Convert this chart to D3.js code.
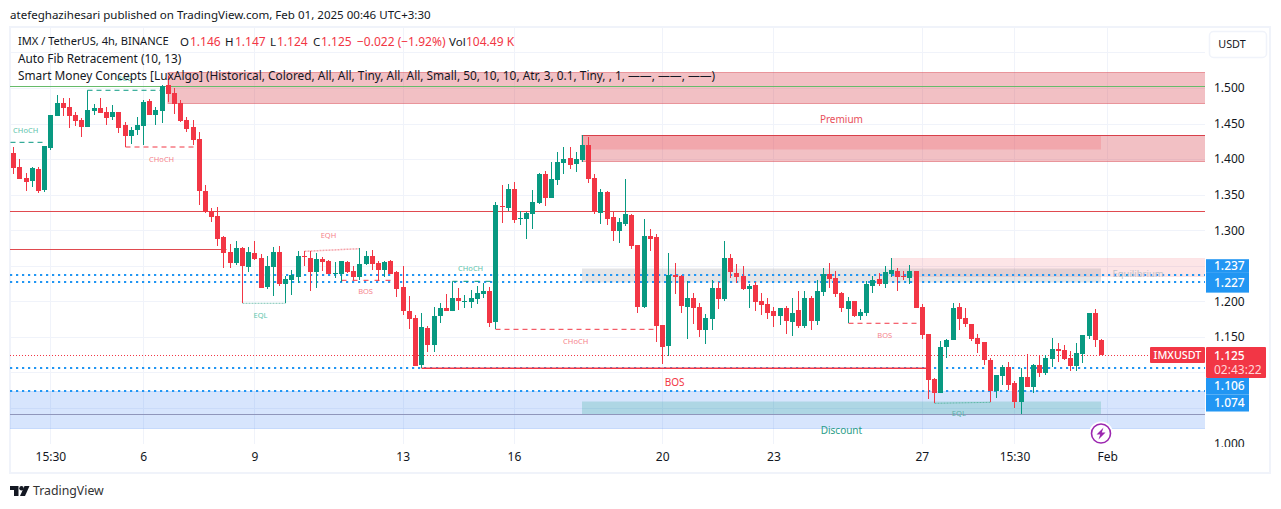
<!DOCTYPE html>
<html>
<head>
<meta charset="utf-8">
<script src="https://cdn.jsdelivr.net/npm/d3@7"></script>
<style>
  body { margin: 0; background: #fff; }
  svg { display: block; font-family: "Noto Sans", sans-serif; }
  .axis text { fill: #131722; font-size: 12px; font-family: "Noto Sans", sans-serif; }
  .axis path, .axis line { display: none; }
</style>
</head>
<body>
<div id="chart"></div>
<script>
// candles (4h bars, oldest first)
var opens = [
  1.4081,1.3888,1.3733,1.3691,1.3860,1.3569,1.4156,1.4610,1.4789,1.4732,
  1.4620,1.4545,1.4456,1.4681,1.4718,1.4662,1.4592,1.4662,1.4479,1.4329,
  1.4409,1.4470,1.4817,1.4625,1.4681,1.5042,1.4929,1.4789,1.4550,1.4451,
  1.4282,1.3551,1.3269,1.3199,1.2903,1.2692,1.2537,1.2749,1.2486,1.2678,
  1.2608,1.2200,1.2481,1.2692,1.2242,1.2298,1.2342,1.2637,1.2609,1.2412,
  1.2595,1.2567,1.2389,1.2384,1.2553,1.2426,1.2342,1.2525,1.2637,1.2539,
  1.2440,1.2567,1.2412,1.2201,1.1863,1.1765,1.1103,1.1624,1.1385,1.1793,
  1.1905,1.1863,1.2046,1.1995,1.1990,1.2032,1.2103,1.2145,1.1713,1.3340,
  1.3312,1.3579,1.3157,1.3157,1.3227,1.3382,1.3790,1.3453,1.3706,1.3945,
  1.4015,1.3931,1.3987,1.4198,1.3734,1.3241,1.3537,1.3185,1.2988,1.3087,
  1.3213,1.2791,1.1919,1.2918,1.2904,1.1666,1.1370,1.2369,1.2355,1.1919,
  1.2046,1.1919,1.1595,1.1750,1.2187,1.2032,1.2609,1.2398,1.2356,1.2173,
  1.2229,1.2004,1.1962,1.1863,1.1793,1.1906,1.1709,1.1877,1.1652,1.2046,
  1.1723,1.2131,1.2384,1.2328,1.2117,1.1891,1.2004,1.1793,1.1835,1.2215,
  1.2314,1.2243,1.2384,1.2426,1.2361,1.2328,1.2427,1.1920,1.1540,1.0907,
  1.0710,1.1357,1.1456,1.1920,1.1765,1.1681,1.1484,1.1428,1.1174,1.0738,
  1.0949,1.1076,1.0851,1.0583,1.0935,1.0794,1.1104,1.0991,1.1188,1.1329,
  1.1315,1.1202,1.1090,1.1259,1.1512,1.1836,1.146];
var highs = [
  1.4165,1.3996,1.3799,1.3888,1.3884,1.4184,1.4620,1.4901,1.4854,1.4854,
  1.4667,1.4573,1.4685,1.4775,1.4859,1.4728,1.4761,1.4667,1.4521,1.4456,
  1.4596,1.4831,1.4840,1.4737,1.5042,1.5169,1.5000,1.4831,1.4596,1.4550,
  1.4381,1.3635,1.3307,1.3325,1.2913,1.2805,1.2847,1.2763,1.2763,1.2847,
  1.2664,1.2636,1.2763,1.2777,1.2355,1.2439,1.2707,1.2707,1.2707,1.2675,
  1.2628,1.2581,1.2553,1.2567,1.2567,1.2496,1.2745,1.2707,1.2722,1.2567,
  1.2571,1.2581,1.2426,1.2496,1.2074,1.1807,1.1835,1.1652,1.1915,1.1971,
  1.2102,1.2046,1.2187,1.2088,1.2159,1.2215,1.2257,1.2196,1.3392,1.3635,
  1.3650,1.3678,1.3270,1.3256,1.3565,1.3804,1.3832,1.3959,1.4100,1.4170,
  1.4170,1.4100,1.4339,1.4311,1.3790,1.3579,1.3551,1.3256,1.3171,1.3720,
  1.3227,1.2791,1.3157,1.3016,1.2946,1.1666,1.2679,1.2538,1.2369,1.2285,
  1.2116,1.1975,1.1820,1.2299,1.2271,1.2848,1.2665,1.2525,1.2496,1.2243,
  1.2271,1.2117,1.2046,1.1920,1.1906,1.1934,1.2046,1.2145,1.2145,1.2074,
  1.2299,1.2468,1.2539,1.2426,1.2131,1.2060,1.2004,1.1891,1.2285,1.2356,
  1.2398,1.2496,1.2609,1.2468,1.2427,1.2511,1.2427,1.1962,1.1540,1.0921,
  1.1442,1.1470,1.1976,1.1976,1.1906,1.1681,1.1540,1.1428,1.1202,1.0963,
  1.1104,1.1146,1.0879,1.1062,1.1259,1.1118,1.1245,1.1245,1.1484,1.1413,
  1.1385,1.1301,1.1413,1.1526,1.1836,1.1892,1.147];
var lows = [
  1.3790,1.3724,1.3555,1.3611,1.3527,1.3541,1.4132,1.4610,1.4610,1.4442,
  1.4465,1.4315,1.4456,1.4620,1.4643,1.4479,1.4550,1.4362,1.4165,1.4212,
  1.4338,1.4202,1.4625,1.4479,1.4512,1.4798,1.4634,1.4526,1.4385,1.4198,
  1.3358,1.3241,1.3119,1.2781,1.2467,1.2467,1.2509,1.1970,1.2416,1.2580,
  1.2186,1.2172,1.2073,1.2214,1.1970,1.2087,1.2262,1.2496,1.2145,1.2187,
  1.2426,1.2384,1.2328,1.2276,1.2398,1.2299,1.2299,1.2510,1.2440,1.2285,
  1.2342,1.2384,1.2060,1.1807,1.1610,1.1089,1.1061,1.1286,1.1286,1.1694,
  1.1863,1.1863,1.1877,1.1905,1.1905,1.1962,1.2046,1.1638,1.1605,1.3106,
  1.3270,1.3101,1.3073,1.2876,1.3016,1.3368,1.3340,1.3453,1.3635,1.3790,
  1.3861,1.3818,1.3964,1.3664,1.3227,1.3087,1.3073,1.2848,1.2819,1.3059,
  1.2735,1.1835,1.1905,1.2707,1.1426,1.1117,1.1229,1.2102,1.1835,1.1469,
  1.1680,1.1497,1.1398,1.1595,1.1891,1.2004,1.2328,1.2257,1.2159,1.1906,
  1.1863,1.1807,1.1751,1.1638,1.1666,1.1540,1.1512,1.1624,1.1624,1.1596,
  1.1666,1.2074,1.2187,1.2060,1.1849,1.1690,1.1779,1.1737,1.1793,1.2117,
  1.2215,1.2187,1.2342,1.2145,1.2300,1.2244,1.1906,1.1470,1.0626,1.0569,
  1.0710,1.1202,1.1456,1.1596,1.1639,1.1442,1.1273,1.1104,1.0583,1.0640,
  1.0823,1.0752,1.0499,1.0415,1.0794,1.0710,1.0935,1.0963,1.1076,1.1146,
  1.1174,1.1020,1.1020,1.1132,1.1470,1.1357,1.124];
var closes = [
  1.3879,1.3724,1.3682,1.3874,1.3555,1.4179,1.4615,1.4789,1.4723,1.4610,
  1.4540,1.4456,1.4685,1.4718,1.4653,1.4582,1.4662,1.4437,1.4329,1.4409,
  1.4479,1.4803,1.4625,1.4690,1.5033,1.4920,1.4779,1.4540,1.4423,1.4268,
  1.3555,1.3255,1.3185,1.2880,1.2678,1.2537,1.2749,1.2495,1.2692,1.2594,
  1.2186,1.2495,1.2692,1.2242,1.2308,1.2369,1.2637,1.2623,1.2412,1.2595,
  1.2553,1.2384,1.2403,1.2567,1.2412,1.2337,1.2525,1.2637,1.2525,1.2440,
  1.2553,1.2384,1.2173,1.1863,1.1751,1.1089,1.1638,1.1385,1.1793,1.1905,
  1.1863,1.2046,1.2004,1.2004,1.2046,1.2116,1.2145,1.1694,1.3354,1.3326,
  1.3579,1.3143,1.3166,1.3241,1.3396,1.3790,1.3453,1.3720,1.3959,1.4001,
  1.3917,1.4001,1.4198,1.3720,1.3256,1.3537,1.3157,1.2988,1.3115,1.3227,
  1.2777,1.1919,1.2918,1.2876,1.1652,1.1356,1.2369,1.2341,1.1933,1.2046,
  1.1905,1.1595,1.1764,1.2186,1.2032,1.2609,1.2412,1.2342,1.2173,1.2215,
  1.1990,1.1948,1.1835,1.1793,1.1906,1.1723,1.1835,1.1652,1.2046,1.1723,
  1.2145,1.2384,1.2314,1.2103,1.1906,1.2004,1.1793,1.1849,1.2243,1.2300,
  1.2243,1.2412,1.2440,1.2342,1.2351,1.2427,1.1906,1.1526,1.0893,1.0710,
  1.1357,1.1456,1.1906,1.1751,1.1681,1.1470,1.1400,1.1174,1.0738,1.0963,
  1.1076,1.0823,1.0583,1.0935,1.0794,1.1104,1.0991,1.1202,1.1329,1.1301,
  1.1188,1.1090,1.1273,1.1526,1.1836,1.1456,1.125];

// 1.050, 1.100 and 1.250 sit behind the price tags, so they get no label
var priceTicks = [1, 1.15, 1.2, 1.3, 1.35, 1.4, 1.45, 1.5];
var gridPrices = [1, 1.05, 1.1, 1.15, 1.2, 1.25, 1.3, 1.35, 1.4, 1.45, 1.5, 1.55];
var timeTicks = [6, 21, 39, 63, 81, 105, 123, 147, 162, 177];
var timeLabels = ["15:30", "6", "9", "13", "16", "20", "23", "27", "15:30", "Feb"];

// zones: bar from, bar to, top price, bottom price, fill, edge
var zones = [
  [25, 200, 1.5225, 1.4796, "rgba(216,60,70,0.32)", "rgba(216,60,70,0.45)"],
  [92, 200, 1.4339, 1.3969, "rgba(216,60,70,0.32)", "rgba(216,60,70,0.45)"],
  [92, 176, 1.4339, 1.4142, "rgba(242,54,69,0.18)", "none"],
  [142, 200, 1.2609, 1.2356, "rgba(242,54,69,0.13)", "rgba(242,54,69,0.08)"],
  [92, 176, 1.2468, 1.2271, "rgba(120,123,134,0.2)", "none"],
  [-2, 200, 1.0738, 1.0225, "rgba(33,110,243,0.18)", "rgba(33,110,243,0.18)"],
  [92, 176, 1.0598, 1.0415, "rgba(8,153,129,0.2)", "none"]
];
// plain levels: price, bar to, colour
var levels = [
  [1.503, 200, "#66bb6a"],
  [1.3266, 200, "#e04a4f"],
  [1.2731, 34.5, "#e04a4f"],
  [1.0411, 200, "#9096bb"]
];
var dottedLevels = [1.237, 1.227, 1.106, 1.074];
var lastPrice = 1.125;

// structure lines: bar1, price1, bar2, price2, colour, dash, width
var structure = [
  [-2, 1.4236, 5, 1.4236, "#089981", "5 4", 1],
  [12, 1.4685, 12, 1.4968, "#089981", null, 1],
  [12, 1.4968, 24, 1.4968, "#089981", "5 4", 1],
  [18, 1.4170, 29.6, 1.4170, "#f23645", "5 4", 1],
  [37, 1.1972, 44, 1.1972, "#7cc4b4", "2 1", 1],
  [47, 1.2703, 56, 1.2740, "#f5a3aa", "2 1", 1.5],
  [53, 1.2295, 61, 1.2295, "#f23645", "5 6", 1],
  [71, 1.2281, 78, 1.2281, "#089981", "5 6", 1],
  [71, 1.1863, 71, 1.2281, "#089981", null, 1],
  [78, 1.1606, 104, 1.1606, "#f23645", "5 4", 1],
  [66, 1.1059, 148, 1.1059, "#f23645", null, 1.5],
  [135, 1.1691, 146, 1.1691, "#f23645", "5 4", 1],
  [149, 1.0565, 158, 1.0579, "#5fb8a6", "2 1", 1]
];
// labels: text, bar, price, colour, size
var zoneLabels = [
  ["CHoCH", 2, 1.4409, "#5cc4ac", 7.5],
  ["BOS", 18, 1.5141, "#5cc4ac", 7.5],
  ["CHoCH", 24, 1.4001, "#f5838c", 7.5],
  ["EQL", 40, 1.1807, "#5cc4ac", 7.5],
  ["EQH", 51, 1.2932, "#f5838c", 7.5],
  ["BOS", 57, 1.2145, "#f5838c", 7.5],
  ["CHoCH", 74, 1.2468, "#5cc4ac", 7.5],
  ["CHoCH", 91, 1.1442, "#f5838c", 7.5],
  ["BOS", 107, 1.0851, "#f23645", 10],
  ["BOS", 141, 1.1519, "#f5838c", 7.5],
  ["EQL", 153, 1.0429, "#5cb0a8", 7.5],
  ["Premium", 134, 1.4550, "#e8505c", 10],
  ["Discount", 134, 1.0185, "#2a9d88", 10],
  ["Equilibrium", 182, 1.2384, "#c0c2c9", 9.5]
];
// price tags on the scale: text, top and bottom of the box
var scaleTags = [
  ["1.237", 1.2592, 1.2400],
  ["1.227", 1.2400, 1.2122],
  ["1.106", 1.0921, 1.0690],
  ["1.074", 1.0690, 1.0450]
];

var fullW = 1281, fullH = 509;
var plotLeft = 10, plotRight = 1205, plotTop = 28, plotBottom = 444;

var svg = d3.select("#chart").append("svg")
    .attr("width", fullW)
    .attr("height", fullH);

var X = d3.scaleLinear().domain([0, 176]).range([13.3, 1101]);
var Y = d3.scaleLinear().domain([1, 1.55]).range([443.5, 52.45]);

svg.append("defs").append("clipPath").attr("id", "plot")
  .append("rect")
    .attr("x", plotLeft).attr("y", plotTop)
    .attr("width", plotRight - plotLeft).attr("height", plotBottom - plotTop);

// frame
svg.append("rect")
    .attr("x", 10).attr("y", 27)
    .attr("width", 1260).attr("height", 446)
    .attr("fill", "none")
    .attr("stroke", "#f0f3fa")
    .attr("stroke-width", 2);

var plot = svg.append("g").attr("clip-path", "url(#plot)");

// grid
plot.selectAll(".hgrid").data(gridPrices).enter().append("line")
    .attr("x1", plotLeft).attr("x2", plotRight)
    .attr("y1", function(d) { return Math.round(Y(d)) + 0.5; })
    .attr("y2", function(d) { return Math.round(Y(d)) + 0.5; })
    .attr("stroke", "#f0f3fa");
plot.selectAll(".vgrid").data(timeTicks).enter().append("line")
    .attr("x1", function(d) { return Math.round(X(d)) + 0.5; })
    .attr("x2", function(d) { return Math.round(X(d)) + 0.5; })
    .attr("y1", plotTop).attr("y2", plotBottom)
    .attr("stroke", "#f0f3fa");

// zones
plot.selectAll(".zone").data(zones).enter().append("rect")
    .attr("x", function(d) { return Math.round(X(d[0])); })
    .attr("y", function(d) { return Math.round(Y(d[2])) + 0.5; })
    .attr("width", function(d) { return Math.round(X(d[1])) - Math.round(X(d[0])); })
    .attr("height", function(d) { return Math.round(Y(d[3])) - Math.round(Y(d[2])); })
    .attr("fill", function(d) { return d[4]; })
    .attr("stroke", function(d) { return d[5]; });

// the upper zone has a stronger top edge
plot.append("line")
    .attr("x1", X(92)).attr("x2", plotRight)
    .attr("y1", Math.round(Y(1.4339)) + 0.5).attr("y2", Math.round(Y(1.4339)) + 0.5)
    .attr("stroke", "#d8404a");

// levels
plot.selectAll(".level").data(levels).enter().append("line")
    .attr("x1", plotLeft)
    .attr("x2", function(d) { return X(d[1]); })
    .attr("y1", function(d) { return Math.round(Y(d[0])) + 0.5; })
    .attr("y2", function(d) { return Math.round(Y(d[0])) + 0.5; })
    .attr("stroke", function(d) { return d[2]; });

plot.selectAll(".dotted").data(dottedLevels).enter().append("line")
    .attr("x1", plotLeft).attr("x2", plotRight)
    .attr("y1", function(d) { return Math.round(Y(d)); })
    .attr("y2", function(d) { return Math.round(Y(d)); })
    .attr("stroke", "#2196f3")
    .attr("stroke-width", 2)
    .attr("stroke-dasharray", "2.2 3.8");

plot.append("line")
    .attr("x1", plotLeft).attr("x2", plotRight)
    .attr("y1", Math.round(Y(lastPrice)) + 0.5).attr("y2", Math.round(Y(lastPrice)) + 0.5)
    .attr("stroke", "#f23645")
    .attr("stroke-dasharray", "1 2");

// structure lines
plot.selectAll(".structure").data(structure).enter().append("line")
    .attr("x1", function(d) { return Math.round(X(d[0])) + 0.5; })
    .attr("x2", function(d) { return Math.round(X(d[2])) + 0.5; })
    .attr("y1", function(d) { return Y(d[1]); })
    .attr("y2", function(d) { return Y(d[3]); })
    .attr("stroke", function(d) { return d[4]; })
    .attr("stroke-dasharray", function(d) { return d[5]; })
    .attr("stroke-width", function(d) { return d[6]; });

// candles
var candles = d3.range(opens.length);
var colour = function(i) { return closes[i] >= opens[i] ? "#089981" : "#f23645"; };

plot.selectAll(".wick").data(candles).enter().append("rect")
    .attr("x", function(i) { return Math.round(X(i)); })
    .attr("y", function(i) { return Y(highs[i]); })
    .attr("width", 1)
    .attr("height", function(i) { return Y(lows[i]) - Y(highs[i]); })
    .attr("fill", colour)
    .attr("shape-rendering", "crispEdges");
plot.selectAll(".body").data(candles).enter().append("rect")
    .attr("x", function(i) { return Math.round(X(i)) - 2; })
    .attr("y", function(i) { return Y(Math.max(opens[i], closes[i])); })
    .attr("width", 5)
    .attr("height", function(i) { return Math.max(1, Math.abs(Y(opens[i]) - Y(closes[i]))); })
    .attr("fill", colour)
    .attr("shape-rendering", "crispEdges");

// labels on the chart
plot.selectAll(".zlabel").data(zoneLabels).enter().append("text")
    .attr("x", function(d) { return X(d[1]); })
    .attr("y", function(d) { return Y(d[2]); })
    .attr("dy", "0.35em")
    .attr("text-anchor", "middle")
    .attr("fill", function(d) { return d[3]; })
    .attr("font-size", function(d) { return d[4]; })
    .text(function(d) { return d[0]; });

// axes
svg.append("g").attr("class", "axis")
    .attr("transform", "translate(1205,0)")
    .call(d3.axisRight(Y).tickValues(priceTicks).tickFormat(d3.format(".3f")).tickSize(0).tickPadding(9));
svg.append("g").attr("class", "axis")
    .attr("transform", "translate(0,449)")
    .call(d3.axisBottom(X).tickValues(timeTicks)
      .tickFormat(function(d, i) { return timeLabels[i]; }).tickSize(0).tickPadding(3));
// the 1.000 label is cut off by the time scale
svg.append("rect").attr("x", 1206).attr("y", 447).attr("width", 60).attr("height", 20).attr("fill", "#fff");

// USDT button
svg.append("rect")
    .attr("x", 1209.5).attr("y", 31.5).attr("width", 57).attr("height", 26).attr("rx", 4)
    .attr("fill", "#fff").attr("stroke", "#f0f3fa").attr("stroke-width", 1.5);
svg.append("text").attr("x", 1232).attr("y", 44.5).attr("dy", "0.35em")
    .attr("text-anchor", "middle").attr("font-size", 10.8).attr("fill", "#131722").text("USDT");

// price tags
svg.selectAll(".tag").data(scaleTags).enter().append("rect")
    .attr("x", 1206)
    .attr("y", function(d) { return Y(d[1]); })
    .attr("width", 43)
    .attr("height", function(d) { return Y(d[2]) - Y(d[1]); })
    .attr("fill", "#2196f3");
svg.selectAll(".tagtext").data(scaleTags).enter().append("text")
    .attr("x", 1214)
    .attr("y", function(d) { return (Y(d[1]) + Y(d[2])) / 2; })
    .attr("dy", "0.35em")
    .attr("font-size", 12)
    .attr("font-weight", 500)
    .attr("fill", "#fff")
    .text(function(d) { return d[0]; });

svg.append("rect").attr("x", 1150).attr("y", 347).attr("width", 55).attr("height", 16).attr("rx", 1).attr("fill", "#f23645");
svg.append("text").attr("x", 1177.5).attr("y", 355.5).attr("dy", "0.35em").attr("text-anchor", "middle")
    .attr("font-size", 10.8).attr("font-weight", 500).attr("fill", "#fff").text("IMXUSDT");
svg.append("rect").attr("x", 1206).attr("y", 347).attr("width", 60).attr("height", 31).attr("rx", 1).attr("fill", "#f23645");
svg.append("text").attr("x", 1214).attr("y", 355.5).attr("dy", "0.35em")
    .attr("font-size", 12).attr("font-weight", 500).attr("fill", "#fff").text("1.125");
svg.append("text").attr("x", 1214).attr("y", 370).attr("dy", "0.35em")
    .attr("font-size", 12).attr("fill", "#ffd5d8").text("02:43:22");

// flash icon
svg.append("circle").attr("cx", X(176)).attr("cy", 433.5).attr("r", 12).attr("fill", "#fff");
svg.append("circle").attr("cx", X(176)).attr("cy", 433.5).attr("r", 9.5)
    .attr("fill", "#fff").attr("stroke", "#9c27b0").attr("stroke-width", 1.6);
svg.append("path")
    .attr("transform", "translate(" + X(176) + ",433.5)")
    .attr("d", "M2.5,-6 L-4.5,1 L-0.8,1 L-2.5,6 L4.5,-1 L0.8,-1 Z")
    .attr("fill", "#9c27b0");

// header and legend
var textDark = "#131722", textRed = "#f23645";
svg.append("text").attr("x", 10).attr("y", 15).attr("dy", "0.35em")
    .attr("font-size", 11.55).attr("fill", textDark)
    .text("atefeghazihesari published on TradingView.com, Feb 01, 2025 00:46 UTC+3:30");

var legendRow = [
  ["IMX / TetherUS, 4h, BINANCE", 18, textDark, 11.1],
  ["O", 180, textDark, 11.5], ["1.146", 190, textRed, 12],
  ["H", 225, textDark, 11.5], ["1.147", 235, textRed, 12],
  ["L", 270, textDark, 11.5], ["1.124", 277, textRed, 12],
  ["C", 313, textDark, 11.5], ["1.125", 321, textRed, 12],
  ["\u22120.022 (\u22121.92%)", 357, textRed, 12],
  ["Vol", 449, textDark, 11.5], ["104.49 K", 466, textRed, 12]
];
svg.selectAll(".legend").data(legendRow).enter().append("text")
    .attr("x", function(d) { return d[1]; })
    .attr("y", 41.5)
    .attr("dy", "0.35em")
    .attr("font-size", function(d) { return d[3]; })
    .attr("fill", function(d) { return d[2]; })
    .text(function(d) { return d[0]; });
svg.append("text").attr("x", 18).attr("y", 59).attr("dy", "0.35em")
    .attr("font-size", 11.8).attr("fill", textDark).text("Auto Fib Retracement (10, 13)");
svg.append("text").attr("x", 18).attr("y", 76).attr("dy", "0.35em")
    .attr("font-size", 11.86).attr("fill", textDark)
    .text("Smart Money Concepts [LuxAlgo] (Historical, Colored, All, All, Tiny, All, All, Small, 50, 10, 10, Atr, 3, 0.1, Tiny, , 1, \u2014\u2014, \u2014\u2014, \u2014\u2014)");

// TradingView mark
svg.append("path").attr("d", "M10,486 H18.5 V496 H14 V490 H10 Z").attr("fill", "#131722");
svg.append("circle").attr("cx", 21.5).attr("cy", 488.2).attr("r", 2.2).attr("fill", "#131722");
svg.append("path").attr("d", "M24.5,486 H29.5 L25,496 H20 Z").attr("fill", "#131722");
svg.append("text").attr("x", 33).attr("y", 491).attr("dy", "0.35em")
    .attr("font-size", 12.3).attr("fill", "#333").text("TradingView");
</script>
</body>
</html>
